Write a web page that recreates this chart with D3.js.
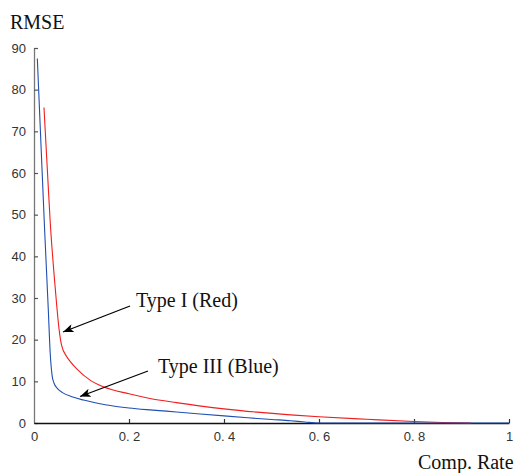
<!DOCTYPE html>
<html>
<head>
<meta charset="utf-8">
<script src="https://cdn.jsdelivr.net/npm/d3@7"></script>
<style>
  body { margin: 0; background: #fff; }
  .tick text { font-family: "Liberation Sans Narrow", "Liberation Sans", Arial, sans-serif; font-size: 13px; fill: #333; }
  .label { font-family: "Liberation Serif", "Times New Roman", serif; font-size: 20px; fill: #111; }
</style>
</head>
<body>
<script>
// compression rate vs RMSE
var rateBlue = [0.007, 0.015, 0.0225, 0.03, 0.034, 0.038, 0.042, 0.05, 0.06, 0.08, 0.104, 0.15, 0.2, 0.25, 0.3, 0.4, 0.45, 0.5, 0.54, 0.57, 0.6, 1.0];
var rmseBlue = [87.5, 66, 46, 27.5, 17, 11.5, 9.6, 8.2, 7.3, 6.3, 5.5, 4.4, 3.6, 3.1, 2.65, 1.7, 1.25, 0.85, 0.55, 0.25, 0, 0];
var rateRed = [0.021, 0.028, 0.034, 0.045, 0.053, 0.058, 0.069, 0.076, 0.09, 0.118, 0.146, 0.2, 0.244, 0.3, 0.4, 0.47, 0.54, 0.6, 0.7, 0.8, 0.86, 0.92];
var rmseRed = [75.7, 61, 48.5, 32, 22.3, 18.7, 15.9, 14.8, 13.0, 10.3, 8.7, 7.0, 5.9, 4.9, 3.4, 2.6, 1.95, 1.5, 0.9, 0.35, 0.12, 0];
var xTicks = [0, 0.2, 0.4, 0.6, 0.8, 1];
var xTickLabels = ["0", "0. 2", "0. 4", "0. 6", "0. 8", "1"];
var yTicks = [0, 10, 20, 30, 40, 50, 60, 70, 80, 90];

var width = 516, height = 473;

var svg = d3.select("body")
    .append("svg")
    .attr("width", width)
    .attr("height", height);

var x = d3.scaleLinear().domain([0, 1]).range([34, 509]);
var y = d3.scaleLinear().domain([0, 90]).range([423, 48]);

//y axis, ticks pointing inward
var yAxis = svg.append("g")
    .attr("transform", "translate(" + x(0) + ",0)")
    .call(d3.axisLeft(y).tickValues(yTicks).tickSize(-4).tickSizeOuter(0).tickPadding(8));
yAxis.select(".domain").attr("stroke", "#777").attr("stroke-width", 1.3);
yAxis.selectAll(".tick line").attr("stroke", "#555").attr("stroke-width", 1.2);

//x axis, ticks pointing up
var xAxis = svg.append("g")
    .attr("transform", "translate(0," + y(0) + ")")
    .call(d3.axisBottom(x).tickValues(xTicks)
        .tickFormat(function(d, i){ return xTickLabels[i]; })
        .tickSize(-4).tickSizeOuter(0).tickPadding(9));
xAxis.select(".domain").attr("stroke", "#111").attr("stroke-width", 1.5);
xAxis.selectAll(".tick line").attr("stroke", "#333").attr("stroke-width", 1.2);
xAxis.selectAll(".tick").filter(function(d){ return d === 0; }).select("line").remove();

var line = d3.line()
    .x(function(d){ return x(d[0]); })
    .y(function(d){ return y(d[1]); })
    .curve(d3.curveMonotoneX);

svg.append("path")
    .datum(d3.zip(rateRed, rmseRed))
    .attr("fill", "none")
    .attr("stroke", "#f01e1e")
    .attr("stroke-width", 1.1)
    .attr("d", line);

svg.append("path")
    .datum(d3.zip(rateBlue, rmseBlue))
    .attr("fill", "none")
    .attr("stroke", "#1f4fb0")
    .attr("stroke-width", 1.1)
    .attr("d", line);

//arrow heads
svg.append("defs").append("marker")
    .attr("id", "arrow")
    .attr("viewBox", "0 0 10 8")
    .attr("refX", 10)
    .attr("refY", 4)
    .attr("markerWidth", 11)
    .attr("markerHeight", 8.5)
    .attr("markerUnits", "userSpaceOnUse")
    .attr("orient", "auto")
    .append("path")
    .attr("d", "M0,0 L10,4 L0,8 L2.5,4 Z")
    .attr("fill", "#000");

svg.append("line")
    .attr("x1", 130).attr("y1", 306)
    .attr("x2", 63).attr("y2", 332)
    .attr("stroke", "#000").attr("stroke-width", 1.3)
    .attr("marker-end", "url(#arrow)");

svg.append("line")
    .attr("x1", 148).attr("y1", 371)
    .attr("x2", 80).attr("y2", 396.5)
    .attr("stroke", "#000").attr("stroke-width", 1.3)
    .attr("marker-end", "url(#arrow)");

svg.append("text").attr("class", "label").attr("x", 136).attr("y", 307).text("Type I (Red)");
svg.append("text").attr("class", "label").attr("x", 158).attr("y", 373).text("Type III (Blue)");
svg.append("text").attr("class", "label").attr("x", 10).attr("y", 29).text("RMSE");
svg.append("text").attr("class", "label").attr("x", 418).attr("y", 469).text("Comp. Rate");
</script>
</body>
</html>
